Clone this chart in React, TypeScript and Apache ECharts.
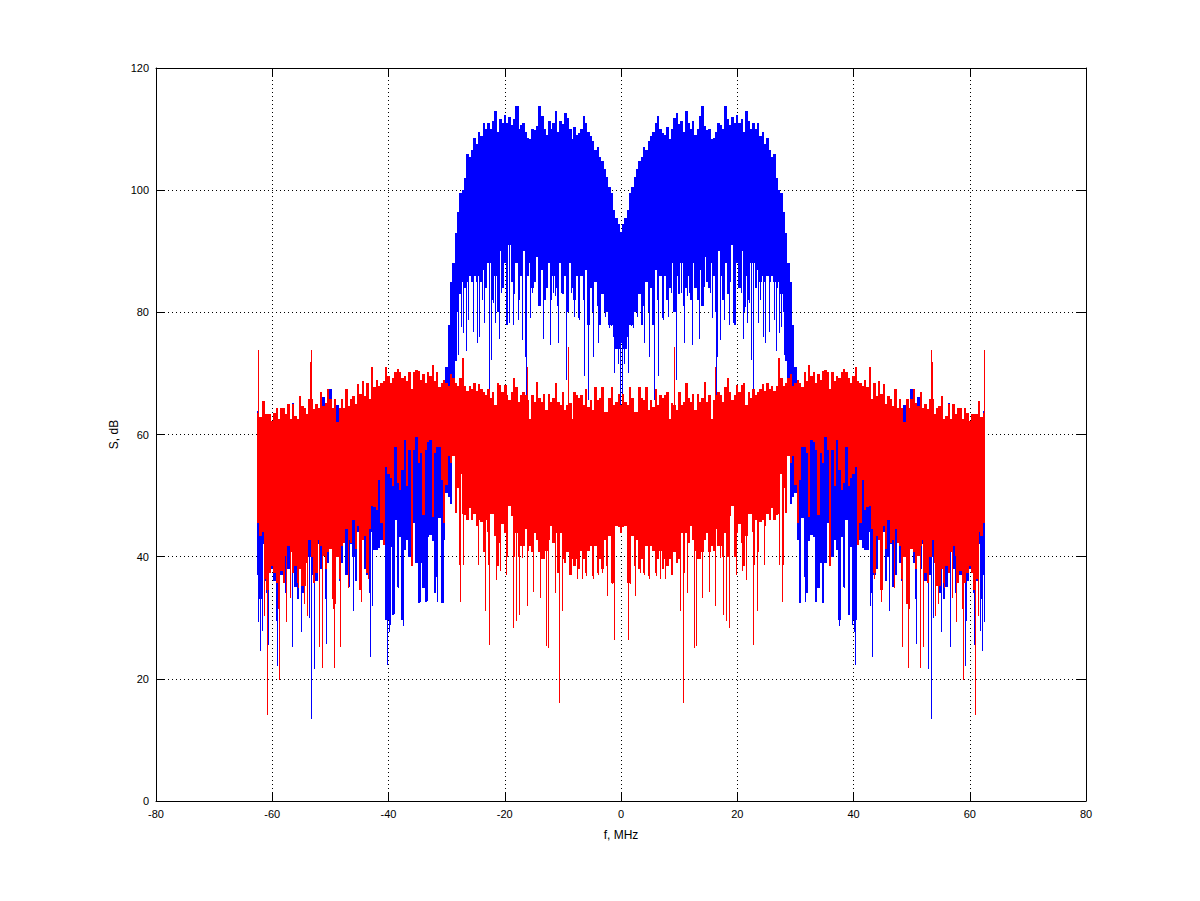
import React, { useEffect, useRef } from "react";
import * as echarts from "echarts";

// Values. The spectrum is mirror-symmetric about f = 0, so the
// negative half (f = -62.4 ... 0, one value every 0.4 MHz) is listed and reflected.
const binStart = -62.4;
const binStep = 0.4;

const redTop = [
  63.6,62.8,65.5,63.3,63.3,63.3,62.2,63.6,64.4,62.5,64.4,64.4,63.3,65,62.5,65,63,62.5,66.3,64.7,64.4,63.3,65.8,65.8,64.2,
  65,64.4,66.9,64.7,65.2,67.4,65.8,64.4,65.8,62,64.4,65.8,64.4,67.4,64.7,65.8,66.3,65,68.2,66.6,68.8,66.3,68.5,65.8,71,
  67.7,69,68,68.5,68.8,71,69.6,68.5,69.3,70.2,70.7,70.2,69.3,69.6,68.8,70.2,67.4,70.2,70.6,70.4,69,69.9,68.5,70.2,69.6,
  71.3,68.8,70.2,67.7,68.5,69,68.5,68,69.9,69.3,68.5,68,69.3,72.5,68,67.2,68,67.4,68.5,67.2,68.2,67.4,67,66.5,67.4,
  65.9,67,64.8,68.4,68.1,67,68.1,66.4,65.6,67,69.2,67.8,65.4,66.4,67,66.4,65.6,62.6,66.4,65.4,68.6,65.9,65.4,66.7,64,
  66.6,65.4,65.9,68.4,65.4,64.8,67,64,64.8,65.1,62.6,67,66.4,65.9,66.4,64.8,67.5,64.5,65.6,64,67.8,65.6,65.9,67.8,63.7,
  63.7,65.9,67.8,64.8,65.4,66.7,64.8,
];
const redBottom = [
  45.5,43.4,44,36.3,34.6,37.4,38.5,37.4,35.7,31.4,37.6,35.7,40.1,41.7,40.7,37.4,38.5,35.7,37.9,35.2,35.2,39,42.8,40,35.7,
  37.4,42.8,41.7,40.1,37.9,40.7,41.2,33,32.2,40,36.3,41.7,42.3,44.5,42.8,42.3,46,41.2,45,34.6,42.8,43.4,37.4,44.5,48.3,
  48.2,47.6,52.6,45.5,41.9,54.7,53.6,52.8,51.5,58,52,50.9,54.2,59.1,51.5,57.5,38.4,57.5,59.6,55.3,56.9,46.8,57.5,58.8,59.1,
  46.5,56.9,58,58,52.6,45.5,51.7,56.4,55.3,56.4,47.1,51.2,53.6,47,46.8,46,48,46,47,45,46,45.6,40.7,46,44,
  47,47,43.4,38.5,42.3,45.3,43.9,40,48.3,46.7,40,43.9,40,41.7,41.7,44.5,41,41.7,40.7,43.9,42.8,40.7,39.6,39.6,41,
  42.8,45,42.3,43.9,37.4,43.9,39.6,39,40.7,37,39.6,38.5,39.6,37.9,41,39.6,37.4,41,41.7,36.8,41.7,37.4,39.6,37.9,42.8,
  38.5,43.4,35.7,35.7,45,44.8,43.9,
];
const blueTop = [
  63.9,60,60,60,60,60,60,60,60,60,60,60,60,60,60,65.1,60,60,60,60,60,60,60,60,60,
  60,60,60,66.2,60,60,67.4,60,60,64.8,60,60,60,60,60,60,60,64.7,60,60,60,60,60,60,60,
  60,60,60,60,60,60,60,60,60,60,60,60,60,60,60,60,60,60,60,60,60,60,60,60,60,
  60,60,62,64,66,68,71,78,85,88,93,96.5,99.5,100,102,106,105.5,106.5,108.5,107.5,109.5,108.8,111,110,111,
  110,111.3,112.9,109.6,111.6,111,112.3,111,111.9,110.6,111.6,113.7,110,110.6,111,109.5,108.5,108.4,110,109.8,110.5,113.8,112.2,110,109,
  111.3,110,111,112.9,109.5,111.4,110.8,112.7,111.8,110,108.4,110.3,109,109.4,110,112.2,111,109.6,108.8,108,106.5,107,105.5,104.8,103.5,
  102.2,100.5,99.6,96.8,95.5,94.4,93.2,
];
const blueBottom = [
  37,33,42,36,34,43,38,36,44,33,37,43,34,38,44,38,35,33,42,34,36,44,40,37,42,
  36,42,38,44,33,39,44,37,35,43,36,39,43,37,35,42,40,36,44,41,45,38,37,34,44,
  41.1,41.1,41.4,42.7,41.9,29.6,29.6,41.6,30.4,46,35,43.3,29.6,41.1,42.7,40,38.4,45.5,38.9,32.4,38.9,34.8,32.6,43.3,43.5,
  42.5,34,36.7,46.3,32.4,42.7,50.4,49.8,48.7,60,72,80,83,85,84,85,86,85,86,85,86,85,87,84,88,
  88,82,86,80,90,84,88,78,91,85,83,88,82,86,90,80,86,88,84,85,89,81,87,82,84,
  88,82,86,84,81,88,83,86,80,88,84,82,86,79,86,82,87,78,84,80,85,81,78,83,80,
  80,78,78,76,74,74,75,
];

const blueSpikeF = [
  -62.4,-62.1,-61.7,-60.7,-59.3,-59.1,-56.6,-55,-53.6,-53.3,-52.8,-50.7,-46.1,-43.1,-42.9,-40.2,-40,-39.8,-39.1,-38.3,-37.5,-34.6,-33.8,-33.4,-31.7,-30.7,
  -28,-27.6,-27.2,-26.7,-26.4,-25.5,-24.8,-24.4,-23.9,-23.5,-22.7,-22.4,-22,-21.7,-21.3,-21,-20.6,-19.3,-18.6,-17.8,-17.1,-16.5,-16.3,-15.7,-15.3,-14.3,-13.5,-13.1,
  -12.3,-11.7,-11.4,-10.8,-10.4,-9.5,-8.6,-8.1,-7.3,-6.4,-5.7,-5.5,-4.8,-4,-3.6,-2.7,-2.1,-1.7,-1.2,-0.5,-0.1,
];
const blueSpikeDb = [
  29.3,24.5,27.8,25.6,29.5,22.1,25.2,27.6,30,13.4,21.6,25.7,31.1,23.6,31.9,22.3,27.6,28.8,30.6,34.9,28.6,32.5,34.9,32.7,32.6,32.4,
  73,77.6,76.6,73.6,78.7,76.8,74.9,76,82,78.2,67,72.2,81.5,78.2,80.9,75.7,83.1,78.2,77.9,78.7,75.5,72.7,66.4,79,83.1,84.2,75.7,82,
  74.6,83.1,82.6,74.9,83.1,68.9,83.1,79.3,78.7,69.5,65.6,81.5,72.7,74.9,79,79.3,77.4,77.7,70,71.6,64.5,
];
const redSpikeF = [
  -61.5,-60.9,-58.8,-57.6,-56.9,-55.5,-54.5,-54.1,-51.9,-51.4,-49.5,-49.3,-48.3,-46.9,-44.8,-43.5,-27.9,-27.7,-27.2,-24.6,-23.4,-22.9,-22.7,-21.5,-20.8,
  -19.8,-18.6,-18.1,-17.5,-17,-16.2,-15.1,-13.9,-12.9,-12.6,-11.4,-10.7,-10.1,-8.6,-7.6,-6.7,-6,-4.8,-4,-3.3,-2.4,-1.5,-1.2,
];
const redSpikeDb = [
  30.3,14,19.8,29.3,33.2,34.8,32.2,30.3,25.2,21.7,31.4,21.7,25.2,34.9,32.6,36.3,38.6,32.6,38.7,38.7,31.1,38.6,25.5,36.1,37.6,
  37,28.3,29.5,30.4,39.8,31.9,34.2,33.2,25.4,25,34,16,31.1,37,36.4,36.4,36.8,36.3,37,37.4,33.6,35.6,26.3,
];
const redPeakF = [-62.5,-53.5,-53.3,-16.2,-9.2];
const redPeakDb = [73.8,71.8,73.8,71.1,74.4];

const xTicks = { min: -80, max: 80, interval: 20 };
const yTicks = { min: 0, max: 120, interval: 20 };
const BLUE = "#0000ff";
const RED = "#ff0000";
const FONT = "'Liberation Sans', sans-serif";

function columns(tops: number[], bottoms: number[]) {
  const half = tops.map((t, i) => {
    const f = binStart + i * binStep;
    return [f - binStep / 2, f + binStep / 2, bottoms[i], t];
  });
  const mirrored = half.slice(0, -1).reverse().map((r) => [-r[1], -r[0], r[2], r[3]]);
  return half.concat(mirrored);
}

function spikes(fs: number[], dbs: number[], anchor: number[]) {
  const out: number[][] = [];
  fs.forEach((f, i) => {
    const k = Math.max(0, Math.min(anchor.length - 1, Math.round((f - binStart) / binStep)));
    out.push([f, f, dbs[i], anchor[k]]);
    out.push([-f, -f, dbs[i], anchor[k]]);
  });
  return out;
}

function renderColumn(_p: any, api: any) {
  const a = api.coord([api.value(0), api.value(3)]);
  const b = api.coord([api.value(1), api.value(2)]);
  const x0 = Math.round(a[0]);
  const x1 = Math.round(b[0]);
  return {
    type: "rect",
    shape: { x: x0, y: Math.round(a[1]), width: Math.max(1, x1 - x0), height: Math.round(b[1]) - Math.round(a[1]) },
    style: { fill: api.visual("color") },
  };
}

function customSeries(data: number[][], color: string) {
  return {
    type: "custom" as const,
    renderItem: renderColumn,
    data,
    encode: { x: [0, 1], y: [2, 3] },
    itemStyle: { color },
    silent: true,
    clip: true,
  };
}

export default function App() {
  const ref = useRef<HTMLDivElement>(null);
  useEffect(() => {
    if (!ref.current) return;
    const chart = echarts.init(ref.current, undefined, { renderer: "svg" });
    const line = { show: true, onZero: false, lineStyle: { color: "#000", width: 1 } };
    const tick = { show: true, inside: true, length: 9, lineStyle: { color: "#000", width: 1 } };
    const grid = { show: true, lineStyle: { color: "#000", width: 1, type: [1, 3] as any } };
    const label = { color: "#000", fontFamily: FONT, fontSize: 11 };
    chart.setOption({
      animation: false,
      backgroundColor: "#fff",
      grid: { left: 156, right: 114, top: 68, bottom: 100, containLabel: false },
      xAxis: [
        {
          type: "value", ...xTicks, position: "bottom", axisLine: line, axisTick: tick, splitLine: grid,
          axisLabel: { ...label, margin: 7 },
          name: "f, MHz", nameLocation: "middle", nameGap: 28,
          nameTextStyle: { ...label, fontSize: 12 },
        },
        { type: "value", ...xTicks, position: "top", axisLine: line, axisTick: tick, splitLine: { show: false }, axisLabel: { show: false } },
      ],
      yAxis: [
        {
          type: "value", ...yTicks, position: "left", axisLine: line, axisTick: tick, splitLine: grid,
          axisLabel: { ...label, margin: 7 },
          name: "S, dB", nameLocation: "middle", nameGap: 35,
          nameTextStyle: { ...label, fontSize: 12 },
        },
        { type: "value", ...yTicks, position: "right", axisLine: line, axisTick: tick, splitLine: { show: false }, axisLabel: { show: false } },
      ],
      series: [
        customSeries(columns(blueTop, blueBottom), BLUE),
        customSeries(spikes(blueSpikeF, blueSpikeDb, blueTop), BLUE),
        customSeries(columns(redTop, redBottom), RED),
        customSeries(spikes(redSpikeF, redSpikeDb, redTop), RED),
        customSeries(spikes(redPeakF, redPeakDb, redBottom), RED),
      ],
    });
    return () => chart.dispose();
  }, []);
  return <div ref={ref} style={{ position: "fixed", left: 0, top: 0, width: 1200, height: 901 }} />;
}
